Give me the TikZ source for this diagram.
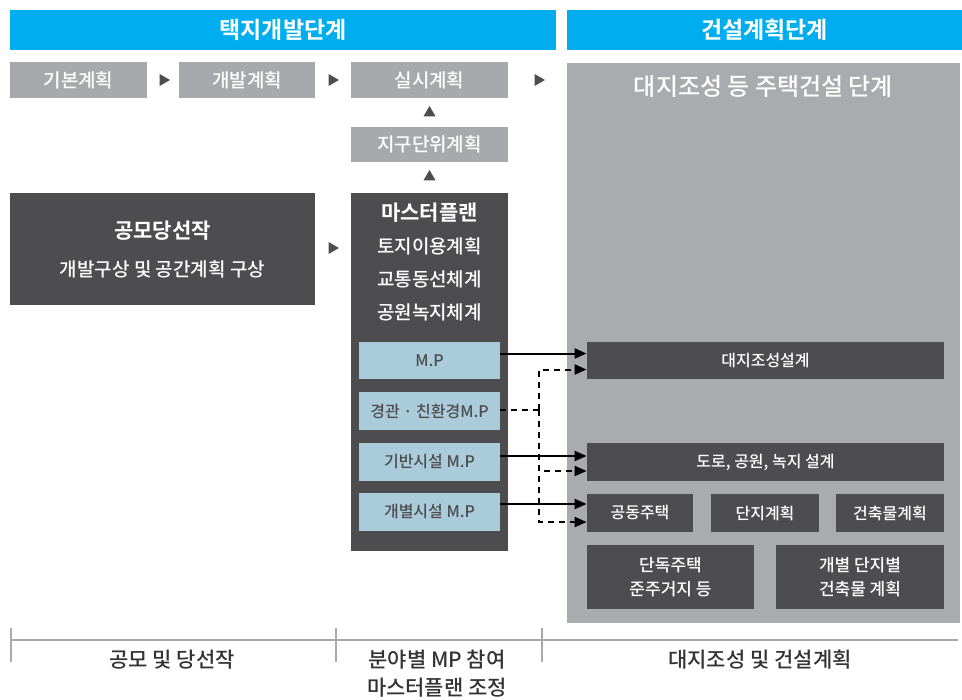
\documentclass[tikz,border=0pt]{standalone}
\usepackage{fontspec}
\setmainfont{Noto Sans CJK KR}[UprightFont={* Medium}, BoldFont={* Bold}]
\usetikzlibrary{
    arrows.meta,
    positioning,
    calc,
    shapes.geometric
}
\definecolor{headBlue}{RGB}{0,174,239}
\definecolor{planGray}{RGB}{167,169,172}
\definecolor{panelGray}{RGB}{170,171,174}
\definecolor{blockDark}{RGB}{77,77,79}
\definecolor{mpBlue}{RGB}{169,203,218}
\definecolor{labelDark}{RGB}{51,51,51}
\definecolor{tickGray}{RGB}{170,170,170}
\tikzset{
    % --- Stage header bar (blue) ---
    stage head/.style = {
        rectangle, fill=headBlue, text=white,
        minimum height=20pt, inner sep=0pt,
        font=\fontsize{11.5}{14}\selectfont\bfseries
    },
    % --- Planning step box (light gray) ---
    plan box/.style = {
        rectangle, fill=planGray, text=white,
        minimum height=18pt, inner sep=0pt,
        font=\fontsize{9.5}{12}\selectfont
    },
    % --- Dark block ---
    dark block/.style = {
        rectangle, fill=blockDark, text=white,
        inner sep=0pt, align=center
    },
    % --- Field master plan box (light blue) ---
    mp box/.style = {
        rectangle, fill=mpBlue, text=blockDark,
        minimum width=70.5pt, minimum height=19pt, inner sep=0pt,
        font=\fontsize{8}{10}\selectfont
    },
    % --- Construction sub block ---
    sub block/.style = {
        dark block, minimum height=19pt,
        font=\fontsize{8}{10}\selectfont
    },
    % --- Small triangle pointer ---
    pointer/.style = {
        regular polygon, regular polygon sides=3,
        fill=blockDark, inner sep=0pt, minimum size=7pt
    },
    % --- Data flow arrow ---
    data arrow/.style = {
        -{Triangle[length=6pt,width=5pt]}, line width=1pt
    },
    % --- Dashed link ---
    ctrl line/.style = {
        line width=1pt, dash pattern=on 3pt off 2.5pt
    },
    ctrl arrow/.style = {
        ctrl line, -{Triangle[length=6pt,width=5pt]}
    },
    % --- Phase label under the timeline ---
    phase label/.style = {
        text=labelDark, align=center,
        font=\fontsize{10.5}{14}\selectfont
    },
    % --- Timeline ---
    tick line/.style = {
        draw=tickGray, line width=0.6pt
    }
}

\begin{document}
\begin{tikzpicture}[x=0.5pt, y=-0.5pt]

\useasboundingbox (0,0) rectangle (962,700);

% ---------------------------------------------------------
% Stage headers
% ---------------------------------------------------------
\node[stage head, minimum width=273pt] (HeadL) at (283,30) {택지개발단계};
\node[stage head, minimum width=197.5pt] (HeadR) at (764.5,30) {건설계획단계};

% ---------------------------------------------------------
% Construction panel (right)
% ---------------------------------------------------------
\node[rectangle, fill=panelGray, minimum width=196.5pt, minimum height=280pt,
    inner sep=0pt] (Panel) at (763.5,343) {};
\node[text=white, font=\fontsize{12}{14}\selectfont] (PanelT) at (763.5,87)
    {대지조성 등 주택건설 단계};

% ---------------------------------------------------------
% Planning steps (top row)
% ---------------------------------------------------------
\node[plan box, minimum width=68.5pt] (Basic) at (78.5,80) {기본계획};
\node[plan box, minimum width=68pt] (Devel) at (247,80) {개발계획};
\node[plan box, minimum width=78.5pt] (Exec) at (429.5,80) {실시계획};
\node[plan box, minimum width=78.5pt, minimum height=17.5pt] (Jigu) at (429.5,144.5) {지구단위계획};

\node[pointer, shape border rotate=-90] (P1) at (163,80) {};
\node[pointer, shape border rotate=-90] (P2) at (332,80) {};
\node[pointer, shape border rotate=-90] (P3) at (538,80) {};
\node[pointer] (P4) at (429.5,113) {};
\node[pointer] (P5) at (429.5,177) {};

% ---------------------------------------------------------
% Contest winner and master plan
% ---------------------------------------------------------
\node[dark block, minimum width=152.5pt, minimum height=56pt,
    font=\fontsize{9.5}{19}\selectfont] (Contest) at (162.5,249) {%
    {\bfseries\fontsize{10.5}{19}\selectfont 공모당선작}\\
    개발구상 및 공간계획 구상
};
\node[pointer, shape border rotate=-90] (P6) at (332,248) {};

\node[dark block, minimum width=78.5pt, minimum height=179pt] (Master) at (429.5,372) {};
\node[text=white, align=center, font=\fontsize{9.5}{16.5}\selectfont] (MasterT) at (429.5,262) {%
    {\bfseries\fontsize{10.5}{16.5}\selectfont 마스터플랜}\\
    토지이용계획\\
    교통동선체계\\
    공원녹지체계
};

\node[mp box, minimum height=18.5pt] (MpA) at (429.5,360.5) {M.P};
\node[mp box] (MpB) at (429.5,411) {경관 · 친환경M.P};
\node[mp box] (MpC) at (429.5,462) {기반시설 M.P};
\node[mp box] (MpD) at (429.5,512) {개별시설 M.P};

% ---------------------------------------------------------
% Construction blocks
% ---------------------------------------------------------
\node[sub block, minimum width=178.5pt, minimum height=18.5pt] (Site) at (765.5,360.5) {대지조성설계};
\node[sub block, minimum width=178.5pt] (Road) at (765.5,462) {도로, 공원, 녹지 설계};
\node[sub block, minimum width=53pt] (Apt) at (640,513) {공동주택};
\node[sub block, minimum width=54pt] (Danji) at (765,513) {단지계획};
\node[sub block, minimum width=54pt] (Bldg) at (890,513) {건축물계획};
\node[sub block, minimum width=83.5pt, minimum height=32pt,
    font=\fontsize{8.5}{12}\selectfont] (Single) at (670.5,577) {단독주택\\준주거지 등};
\node[sub block, minimum width=84pt, minimum height=32pt,
    font=\fontsize{8.5}{12}\selectfont] (Indiv) at (860,577) {개별 단지별\\건축물 계획};

% ---------------------------------------------------------
% Links
% ---------------------------------------------------------
\coordinate (InSite) at ([yshift=3.5pt]Site.west);
\coordinate (InRoad) at ([yshift=3pt]Road.west);
\coordinate (InApt) at ([yshift=4.5pt]Apt.west);

\draw[data arrow] (MpA.east |- InSite) -- (InSite);
\draw[data arrow] (MpC.east |- InRoad) -- (InRoad);
\draw[data arrow] (MpD.east |- InApt) -- (InApt);

\coordinate (Fork) at (539,410);
\draw[ctrl line] (MpB.east |- Fork) -- (Fork);
\foreach \dst in {Site, Road, Apt}
    \draw[ctrl arrow] (Fork) |- ([yshift=-4.5pt]\dst.west);

% ---------------------------------------------------------
% Timeline
% ---------------------------------------------------------
\coordinate (TlL) at (11,640);
\coordinate (TlR) at (958,640);
\draw[tick line] (TlL) -- (TlR);
\foreach \tx in {11, 336, 542}
    \draw[tick line] (\tx,628) -- (\tx,662);

\node[phase label] (LblA) at (172,660) {공모 및 당선작};
\node[phase label] (LblB) at (437,674) {분야별 MP 참여\\마스터플랜 조정};
\node[phase label] (LblC) at (760,660) {대지조성 및 건설계획};

\end{tikzpicture}
\end{document}
